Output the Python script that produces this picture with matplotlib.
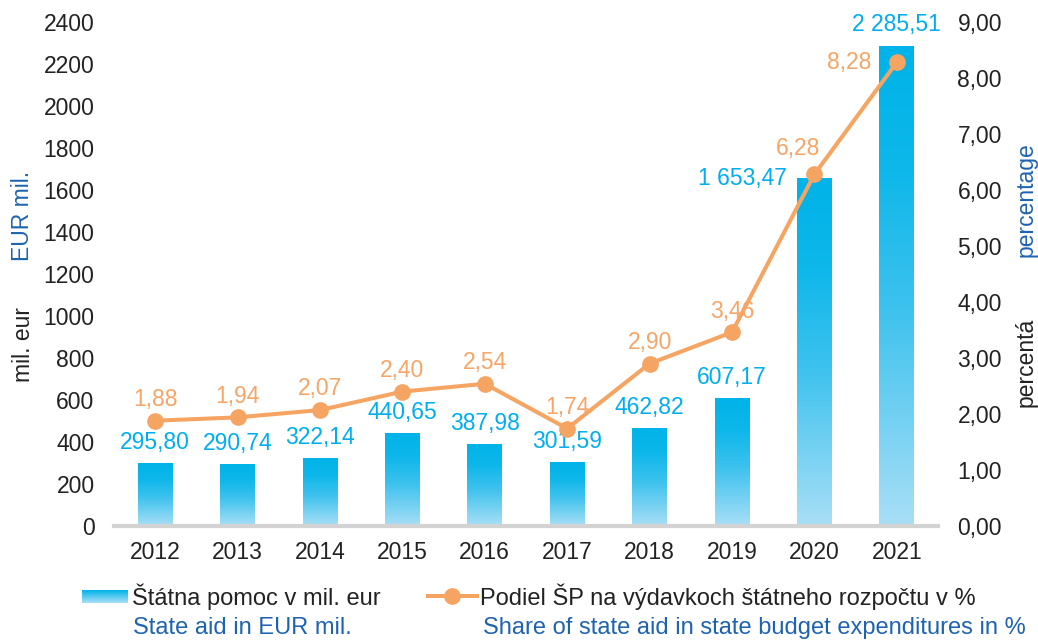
import matplotlib
matplotlib.use("Agg")
import matplotlib.pyplot as plt
import numpy as np
from matplotlib.colors import LinearSegmentedColormap
from matplotlib.lines import Line2D

plt.rcParams['font.family'] = ['Liberation Sans', 'DejaVu Sans']

years = ['2012', '2013', '2014', '2015', '2016', '2017', '2018', '2019', '2020', '2021']
aid = [295.80, 290.74, 322.14, 440.65, 387.98, 301.59, 462.82, 607.17, 1653.47, 2285.51]
share = [1.88, 1.94, 2.07, 2.40, 2.54, 1.74, 2.90, 3.46, 6.28, 8.28]
left_ticks = [0, 200, 400, 600, 800, 1000, 1200, 1400, 1600, 1800, 2000, 2200, 2400]
right_ticks = [0, 1, 2, 3, 4, 5, 6, 7, 8, 9]

legend_bar_sk = 'Štátna pomoc v mil. eur'
legend_bar_en = 'State aid in EUR mil.'
legend_line_sk = 'Podiel ŠP na výdavkoch štátneho rozpočtu v %'
legend_line_en = 'Share of state aid in state budget expenditures in %'

CYAN = '#00AEEF'
ORANGE = '#F7A566'
LINE = '#F5A462'
BLUE = '#1E63B0'
DARK = '#222222'
FS = 16.5


def fmt(v):
    s = f"{v:,.2f}"
    return s.replace(',', ' ').replace('.', ',')


fig = plt.figure(figsize=(10.38, 6.41), dpi=100)
ax = fig.add_axes([114 / 1038, 1 - 526 / 641, (938 - 114) / 1038, (526 - 22) / 641])
ax2 = ax.twinx()

cmap = LinearSegmentedColormap.from_list('g', [(0.0, '#A9DFF6'), (0.45, '#3EC2EE'), (0.75, '#0DB7EA'), (1.0, '#00B3E8')])
grad = np.linspace(0, 1, 256).reshape(-1, 1)
x = np.arange(len(years))
w = 0.42
for xi, v in zip(x, aid):
    ax.imshow(grad, cmap=cmap, origin='lower', aspect='auto',
              extent=(xi - w / 2, xi + w / 2, 0, v), zorder=2)
bars = ax.bar(x, aid, width=w, color='none', zorder=1)

ax.set_xlim(-0.5, len(years) - 0.5)
ax.set_ylim(0, 2400)
ax.set_yticks(left_ticks)
ax.set_yticklabels([str(t) for t in left_ticks])
ax.set_xticks(x)
ax.set_xticklabels(years)
ax.axhline(0, color='#D3D3D3', lw=3, zorder=3, clip_on=False)
for s in ax.spines.values():
    s.set_visible(False)
ax.tick_params(axis='both', length=0, labelsize=FS, colors=DARK)
ax.tick_params(axis='y', pad=14)
ax.tick_params(axis='x', pad=11)

ax2.set_ylim(0, 9)
ax2.set_yticks(right_ticks)
ax2.set_yticklabels([f"{t:.2f}".replace('.', ',') for t in right_ticks])
for s in ax2.spines.values():
    s.set_visible(False)
ax2.tick_params(axis='y', length=0, labelsize=FS, colors=DARK, pad=14)

ax2.plot(x, share, color=LINE, lw=2.9, marker='o', markersize=11,
         markerfacecolor=LINE, markeredgecolor=LINE, zorder=5)

# bar labels
for i, (xi, v) in enumerate(zip(x, aid)):
    if i == len(aid) - 2:
        ax.annotate(fmt(v), (xi - w / 2, v), xytext=(-7, 0), textcoords='offset points',
                    ha='right', va='center', color=CYAN, fontsize=FS, zorder=6)
    else:
        ax.annotate(fmt(v), (xi, v), xytext=(0, 7), textcoords='offset points',
                    ha='center', va='bottom', color=CYAN, fontsize=FS, zorder=6)

# line labels
for i, (xi, v) in enumerate(zip(x, share)):
    lab = f"{v:.2f}".replace('.', ',')
    if i == len(share) - 1:
        ax2.annotate(lab, (xi, v), xytext=(-18, 0), textcoords='offset points',
                     ha='right', va='center', color=ORANGE, fontsize=FS, zorder=6)
    elif i == len(share) - 2:
        ax2.annotate(lab, (xi, v), xytext=(-12, 10), textcoords='offset points',
                     ha='center', va='bottom', color=ORANGE, fontsize=FS, zorder=6)
    else:
        ax2.annotate(lab, (xi, v), xytext=(0, 7), textcoords='offset points',
                     ha='center', va='bottom', color=ORANGE, fontsize=FS, zorder=6)

# axis titles
fig.text(23 / 1038, 1 - 345 / 641, 'mil. eur', rotation=90, ha='center', va='center',
         fontsize=FS, color=DARK)
fig.text(23 / 1038, 1 - 216 / 641, 'EUR mil.', rotation=90, ha='center', va='center',
         fontsize=FS, color=BLUE)
fig.text(1026 / 1038, 1 - 362 / 641, 'percentá', rotation=90, ha='center', va='center',
         fontsize=FS, color=DARK)
fig.text(1026 / 1038, 1 - 200 / 641, 'percentage', rotation=90, ha='center', va='center',
         fontsize=FS, color=BLUE)

# legend
lax = fig.add_axes([0, 0, 1, 1], zorder=-1)
lax.set_xlim(0, 1038)
lax.set_ylim(641, 0)
lax.axis('off')
pgrad = np.linspace(0, 1, 64).reshape(-1, 1)
lax.imshow(pgrad, cmap=LinearSegmentedColormap.from_list('p', ['#00B3E8', '#A9DFF6']),
           aspect='auto', extent=(82, 128, 603, 590))
lax.set_xlim(0, 1038)
lax.set_ylim(641, 0)
lax.add_line(Line2D([428, 477], [596, 596], color=LINE, lw=2.9))
lax.plot([452], [596], marker='o', markersize=11, color=LINE)
fig.text(132 / 1038, 1 - 597 / 641, legend_bar_sk, ha='left', va='center', fontsize=17, color=DARK)
fig.text(133 / 1038, 1 - 628 / 641, legend_bar_en, ha='left', va='center', fontsize=17, color=BLUE)
fig.text(480 / 1038, 1 - 597 / 641, legend_line_sk, ha='left', va='center', fontsize=17, color=DARK)
fig.text(483 / 1038, 1 - 628 / 641, legend_line_en, ha='left', va='center', fontsize=17, color=BLUE)

fig.savefig('out.png', dpi=100)
